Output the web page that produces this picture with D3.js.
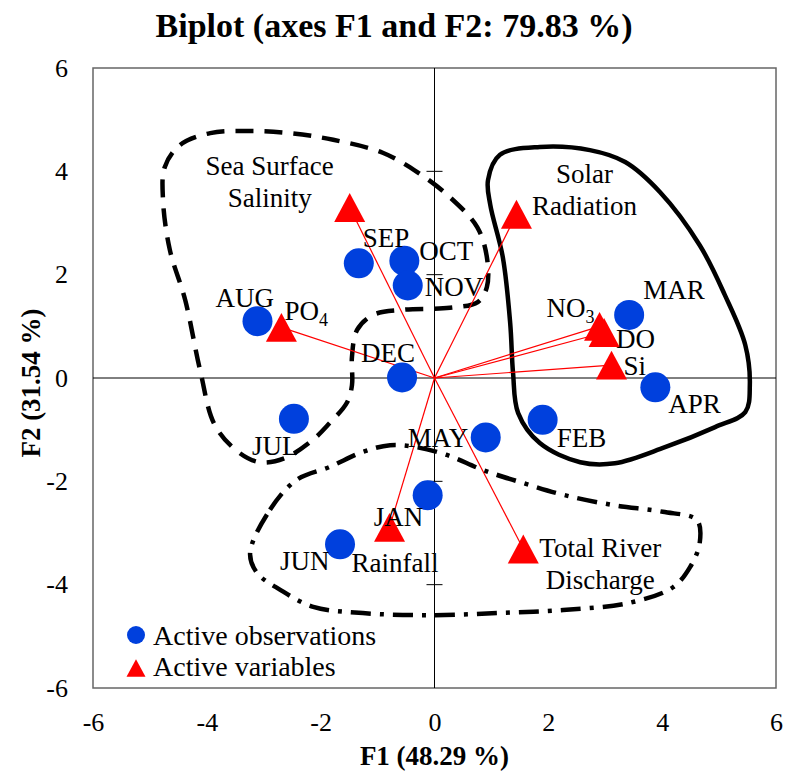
<!DOCTYPE html>
<html>
<head>
<meta charset="utf-8">
<script src="https://cdn.jsdelivr.net/npm/d3@7"></script>
<style>
  body { margin: 0; background: #fff; }
  text { font-family: "Liberation Serif", "Times New Roman", serif; fill: #000; }
</style>
</head>
<body>
<div id="chart"></div>
<script>
// observations (months) on F1 / F2
const obsNames = ["JAN", "FEB", "MAR", "APR", "MAY", "JUN", "JUL", "AUG", "SEP", "OCT", "NOV", "DEC"];
const obsF1 = [-0.12, 1.90, 3.42, 3.88, 0.90, -1.66, -2.47, -3.11, -1.33, -0.53, -0.47, -0.57];
const obsF2 = [-2.27, -0.81, 1.22, -0.18, -1.15, -3.22, -0.79, 1.10, 2.22, 2.27, 1.79, 0.01];

// variables
const varNames = ["Sea Surface Salinity", "PO4", "Solar Radiation", "NO3", "DO", "Si", "Rainfall", "Total River Discharge"];
const varF1 = [-1.49, -2.69, 1.44, 2.90, 2.98, 3.11, -0.79, 1.56];
const varF2 = [3.30, 0.98, 3.17, 1.00, 0.88, 0.25, -2.89, -3.31];

const xTicks = [-6, -4, -2, 0, 2, 4, 6];
const yTicks = [-6, -4, -2, 0, 2, 4, 6];

// hand drawn groupings (in F1/F2 units)
const salinityLoop = [[-4.74, 4.08], [-4.47, 4.51], [-3.94, 4.74], [-3.24, 4.78], [-2.54, 4.74], [-1.78, 4.61],
  [-0.91, 4.36], [-0.31, 3.99], [0.27, 3.50], [0.75, 2.92], [0.92, 2.34], [0.92, 1.76], [0.76, 1.47],
  [0.27, 1.36], [-0.55, 1.32], [-1.08, 1.22], [-1.36, 0.93], [-1.45, 0.41], [-1.45, -0.14], [-1.54, -0.48],
  [-1.84, -0.87], [-2.14, -1.20], [-2.63, -1.55], [-3.07, -1.63], [-3.45, -1.43], [-3.86, -0.91],
  [-4.12, 0.16], [-4.38, 1.51], [-4.65, 2.48], [-4.77, 3.45]];
const solarLoop = [[0.94, 3.83], [1.15, 4.32], [1.85, 4.47], [2.73, 4.41], [3.35, 4.18], [3.96, 3.60],
  [4.66, 2.57], [5.10, 1.61], [5.46, 0.64], [5.54, -0.14], [5.46, -0.66], [4.93, -0.95], [4.05, -1.34],
  [3.17, -1.65], [2.56, -1.63], [1.85, -1.26], [1.47, -0.68], [1.38, 0.10], [1.33, 1.06], [1.20, 2.34],
  [0.98, 3.35]];
const rainLoop = [[-3.24, -3.39], [-2.89, -2.55], [-2.42, -1.97], [-1.84, -1.72], [-1.26, -1.43],
  [-0.78, -1.30], [-0.31, -1.34], [0.22, -1.49], [0.85, -1.78], [1.55, -2.03], [2.26, -2.26], [3.14, -2.46],
  [4.01, -2.59], [4.61, -2.75], [4.66, -3.19], [4.49, -3.66], [4.19, -4.05], [3.43, -4.35], [2.26, -4.49],
  [1.10, -4.55], [-0.08, -4.59], [-1.26, -4.55], [-2.13, -4.43], [-2.71, -4.10], [-3.12, -3.77]];

// label placement, pixel offset from the marker
const obsLabelPos = {
  JAN: [-54, 31], FEB: [14, 27], MAR: [14, -16], APR: [13, 26], MAY: [-78, 10], JUN: [-60, 26],
  JUL: [-42, 36], AUG: [-42, -14], SEP: [4, -16], OCT: [15, -1], NOV: [17, 10], DEC: [-41, -15]
};
const varLabelPos = {
  "Sea Surface Salinity": { dx: -80, dy: -33, anchor: "middle", lines: ["Sea Surface", "Salinity"] },
  "PO4": { dx: 3, dy: -7, anchor: "start", base: "PO", sub: "4" },
  "Solar Radiation": { dx: 68, dy: -31, anchor: "middle", lines: ["Solar", "Radiation"] },
  "NO3": { dx: -53, dy: -9, anchor: "start", base: "NO", sub: "3" },
  "DO": { dx: 12, dy: 15, anchor: "start", lines: ["DO"] },
  "Si": { dx: 12, dy: 10, anchor: "start", lines: ["Si"] },
  "Rainfall": { dx: -38, dy: 45, anchor: "start", lines: ["Rainfall"] },
  "Total River Discharge": { dx: 77, dy: 8, anchor: "middle", lines: ["Total River", "Discharge"] }
};

const width = 785, height = 775;
const blue = "#0040dd", red = "#ff0000";

const svg = d3.select("#chart").append("svg")
  .attr("width", width)
  .attr("height", height);

const x = d3.scaleLinear().domain([-6, 6]).range([93, 776]);
const y = d3.scaleLinear().domain([-6, 6]).range([688, 68]);

// title
svg.append("text")
  .attr("x", 394).attr("y", 37)
  .attr("text-anchor", "middle")
  .style("font-size", "34px").style("font-weight", "bold")
  .text("Biplot (axes F1 and F2: 79.83 %)");

// outer tick labels (plain hyphen like the original)
svg.append("g")
  .attr("transform", `translate(0,${y(-6)})`)
  .call(d3.axisBottom(x).tickValues(xTicks).tickSize(0).tickPadding(25).tickFormat(d => String(d)))
  .call(g => g.select(".domain").remove())
  .selectAll("text")
  .style("font-size", "26px")
  .style("font-family", "'Liberation Serif', 'Times New Roman', serif");

svg.append("g")
  .attr("transform", `translate(${x(-6)},0)`)
  .call(d3.axisLeft(y).tickValues(yTicks).tickSize(0).tickPadding(25).tickFormat(d => String(d)))
  .call(g => g.select(".domain").remove())
  .selectAll("text")
  .style("font-size", "26px")
  .style("font-family", "'Liberation Serif', 'Times New Roman', serif");

// plot frame
svg.append("rect")
  .attr("x", x(-6)).attr("y", y(6))
  .attr("width", x(6) - x(-6)).attr("height", y(-6) - y(6))
  .attr("fill", "none").attr("stroke", "#666").attr("stroke-width", 1.5);

// axes through origin
svg.append("line")
  .attr("x1", x(-6)).attr("x2", x(6)).attr("y1", y(0)).attr("y2", y(0))
  .attr("stroke", "#000").attr("stroke-width", 1);
svg.append("line")
  .attr("x1", x(0)).attr("x2", x(0)).attr("y1", y(6)).attr("y2", y(-6))
  .attr("stroke", "#000").attr("stroke-width", 1);
svg.selectAll(".ytick")
  .data(yTicks.filter(d => d != 0 && Math.abs(d) < 6))
  .enter().append("line")
  .attr("class", "ytick")
  .attr("x1", x(0) - 8).attr("x2", x(0) + 8)
  .attr("y1", d => y(d)).attr("y2", d => y(d))
  .attr("stroke", "#000").attr("stroke-width", 1);

// axis titles
svg.append("text")
  .attr("x", x(0)).attr("y", 765)
  .attr("text-anchor", "middle")
  .style("font-size", "27px").style("font-weight", "bold")
  .text("F1 (48.29 %)");
svg.append("text")
  .attr("transform", `translate(40,${y(0) + 5}) rotate(-90)`)
  .attr("text-anchor", "middle")
  .style("font-size", "27px").style("font-weight", "bold")
  .text("F2 (31.54 %)");

// group outlines
const loopLine = d3.line()
  .x(d => x(d[0]))
  .y(d => y(d[1]))
  .curve(d3.curveCatmullRomClosed.alpha(0.5));

svg.append("path").datum(salinityLoop)
  .attr("d", loopLine)
  .attr("fill", "none").attr("stroke", "#000").attr("stroke-width", 4.5)
  .attr("stroke-dasharray", "18,11");
svg.append("path").datum(solarLoop)
  .attr("d", loopLine)
  .attr("fill", "none").attr("stroke", "#000").attr("stroke-width", 4.5);
svg.append("path").datum(rainLoop)
  .attr("d", loopLine)
  .attr("fill", "none").attr("stroke", "#000").attr("stroke-width", 4.5)
  .attr("stroke-dasharray", "20,9,4,9");

const varData = varNames.map((n, i) => ({ name: n, f1: varF1[i], f2: varF2[i] }));
const obsData = obsNames.map((n, i) => ({ name: n, f1: obsF1[i], f2: obsF2[i] }));

// vectors
svg.selectAll(".vec")
  .data(varData)
  .enter().append("line")
  .attr("class", "vec")
  .attr("x1", x(0)).attr("y1", y(0))
  .attr("x2", d => x(d.f1)).attr("y2", d => y(d.f2))
  .attr("stroke", red).attr("stroke-width", 1.2);

// observations
svg.selectAll(".obs")
  .data(obsData)
  .enter().append("circle")
  .attr("class", "obs")
  .attr("cx", d => x(d.f1)).attr("cy", d => y(d.f2))
  .attr("r", 15)
  .attr("fill", blue);

// triangle, centred on its bounding box
function tri(s) {
  const h = s * 0.93;
  return `M0,${-h / 2}L${s / 2},${h / 2}L${-s / 2},${h / 2}Z`;
}

svg.selectAll(".var")
  .data(varData)
  .enter().append("path")
  .attr("class", "var")
  .attr("d", tri(31))
  .attr("transform", d => `translate(${x(d.f1)},${y(d.f2)})`)
  .attr("fill", red);

// labels
svg.selectAll(".obs-label")
  .data(obsData)
  .enter().append("text")
  .attr("class", "obs-label")
  .attr("x", d => x(d.f1) + obsLabelPos[d.name][0])
  .attr("y", d => y(d.f2) + obsLabelPos[d.name][1])
  .style("font-size", "27px")
  .text(d => d.name);

varData.forEach(function (d) {
  const p = varLabelPos[d.name];
  const t = svg.append("text")
    .attr("x", x(d.f1) + p.dx)
    .attr("y", y(d.f2) + p.dy)
    .attr("text-anchor", p.anchor)
    .style("font-size", "27px");
  if (p.sub) {
    t.append("tspan").text(p.base);
    t.append("tspan").attr("dy", 6).style("font-size", "18px").text(p.sub);
  } else {
    p.lines.forEach(function (line, i) {
      t.append("tspan")
        .attr("x", x(d.f1) + p.dx)
        .attr("dy", i == 0 ? 0 : 32)
        .text(line);
    });
  }
});

// legend
const legend = svg.append("g").attr("transform", "translate(136,635)");
legend.append("circle").attr("cx", 0).attr("cy", 0).attr("r", 9).attr("fill", blue);
legend.append("text").attr("x", 17).attr("y", 10).style("font-size", "28px").text("Active observations");
legend.append("path").attr("d", tri(19)).attr("transform", "translate(0,33)").attr("fill", red);
legend.append("text").attr("x", 17).attr("y", 41).style("font-size", "28px").text("Active variables");
</script>
</body>
</html>
